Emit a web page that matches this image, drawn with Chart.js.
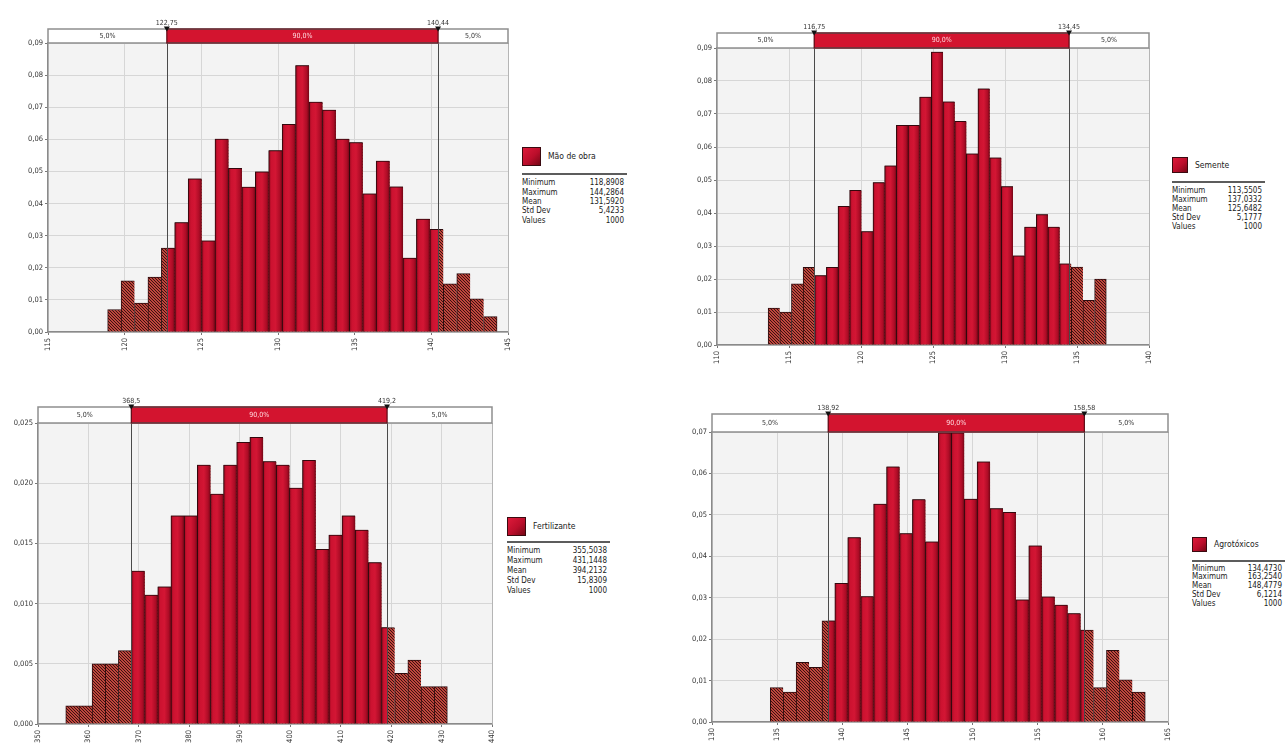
<!DOCTYPE html>
<html>
<head>
<meta charset="utf-8">
<title>Distribuições</title>
<script src="https://cdn.jsdelivr.net/npm/chart.js@4.4.1/dist/chart.umd.min.js"></script>
<style>
  html, body { margin: 0; padding: 0; background: #fff; }
  body { width: 1288px; height: 749px; position: relative; overflow: hidden;
         font-family: "DejaVu Sans Condensed", "Liberation Sans Narrow", "Liberation Sans", sans-serif; }
  canvas { position: absolute; }
  .legend { position: absolute; color: #222; font-size: 8px; }
  .legend .swatch { position: absolute; left: 0; top: 0; box-sizing: border-box;
                    border: 1px solid #3a0a10; background: linear-gradient(135deg, #de1a3a 0%, #bb0e2b 55%, #760716 100%); }
  .legend .name { position: absolute; white-space: nowrap; font-size: 8.5px; color: #222; }
  .legend .rule { position: absolute; left: 0; height: 2px; background: #5c5c5c; }
  .legend .row { position: absolute; left: 0; right: 0; white-space: nowrap; }
  .legend .row .v { position: absolute; right: 3px; top: 0; }
</style>
</head>
<body>
<canvas id="c1" width="515" height="370" style="left:0px;top:0px"></canvas>
<canvas id="c2" width="495" height="380" style="left:660px;top:0px"></canvas>
<canvas id="c3" width="500" height="374" style="left:0px;top:375px"></canvas>
<canvas id="c4" width="515" height="369" style="left:660px;top:380px"></canvas>
<script>
// ---- data ---------------------------------------------------------------
const statNames = ['Minimum', 'Maximum', 'Mean', 'Std Dev', 'Values'];

// Mão de obra
const maoDensity = [0.0070, 0.0159, 0.0090, 0.0171, 0.0261, 0.0341, 0.0477, 0.0284, 0.0601, 0.0510,
                    0.0451, 0.0499, 0.0565, 0.0647, 0.0830, 0.0716, 0.0691, 0.0601, 0.0590, 0.0430,
                    0.0532, 0.0452, 0.0230, 0.0352, 0.0320, 0.0150, 0.0182, 0.0103, 0.0048];
const maoStats = [118.8908, 144.2864, 131.5920, 5.4233, 1000];
const maoPercentiles = [122.75, 140.44];
const maoXAxis = [115, 145, 5];
const maoYAxis = [0.09, 0.01];

// Semente
const sementeDensity = [0.0112, 0.0100, 0.0185, 0.0235, 0.0210, 0.0235, 0.0420, 0.0469, 0.0344, 0.0492,
                        0.0543, 0.0666, 0.0666, 0.0751, 0.0888, 0.0737, 0.0678, 0.0579, 0.0776, 0.0567,
                        0.0480, 0.0270, 0.0357, 0.0395, 0.0357, 0.0246, 0.0236, 0.0135, 0.0200];
const sementeStats = [113.5505, 137.0332, 125.6482, 5.1777, 1000];
const sementePercentiles = [116.75, 134.45];
const sementeXAxis = [110, 140, 5];
const sementeYAxis = [0.09, 0.01];

// Fertilizante
const fertDensity = [0.0015, 0.0015, 0.0050, 0.0050, 0.0061, 0.0127, 0.0107, 0.0114, 0.0173, 0.0173,
                     0.0215, 0.0191, 0.0215, 0.0234, 0.0238, 0.0218, 0.0215, 0.0196, 0.0219, 0.0145,
                     0.0157, 0.0173, 0.0161, 0.0134, 0.0080, 0.0042, 0.0053, 0.0031, 0.0031];
const fertStats = [355.5038, 431.1448, 394.2132, 15.8309, 1000];
const fertPercentiles = [368.5, 419.2];
const fertXAxis = [350, 440, 10];
const fertYAxis = [0.025, 0.005];

// Agrotóxicos
const agroDensity = [0.0083, 0.0072, 0.0144, 0.0132, 0.0244, 0.0335, 0.0445, 0.0303, 0.0526, 0.0616,
                     0.0455, 0.0537, 0.0435, 0.0698, 0.0698, 0.0538, 0.0628, 0.0515, 0.0506, 0.0295,
                     0.0425, 0.0302, 0.0282, 0.0262, 0.0222, 0.0083, 0.0173, 0.0102, 0.0072];
const agroStats = [134.4730, 163.2540, 148.4779, 6.1214, 1000];
const agroPercentiles = [138.92, 158.58];
const agroXAxis = [130, 165, 5];
const agroYAxis = [0.07, 0.01];

// ---- layout -------------------------------------------------------------
const layouts = [
  { padTop: 43, padRight: 7, yAxisW: 48, xAxisH: 38, bandH: 14, yDec: 2,
    legend: { x: 522, y: 147, sq: 19, w: 105, rule: 26, row0: 36, gap: 9.3 } },
  { padTop: 48, padRight: 6, yAxisW: 57, xAxisH: 35, bandH: 15, yDec: 2,
    legend: { x: 1172, y: 157, sq: 16, w: 93, rule: 24, row0: 33, gap: 9 } },
  { padTop: 48, padRight: 8, yAxisW: 38, xAxisH: 25, bandH: 16, yDec: 3,
    legend: { x: 507, y: 517, sq: 19, w: 103, rule: 24, row0: 34, gap: 10 } },
  { padTop: 52, padRight: 7, yAxisW: 52, xAxisH: 27, bandH: 18, yDec: 2,
    legend: { x: 1192, y: 537, sq: 15, w: 93, rule: 23, row0: 32, gap: 8.8 } }
];

const panels = [
  { id: 'c1', name: 'Mão de obra', density: maoDensity, stats: maoStats, pct: maoPercentiles, xAxis: maoXAxis, yAxis: maoYAxis },
  { id: 'c2', name: 'Semente', density: sementeDensity, stats: sementeStats, pct: sementePercentiles, xAxis: sementeXAxis, yAxis: sementeYAxis },
  { id: 'c3', name: 'Fertilizante', density: fertDensity, stats: fertStats, pct: fertPercentiles, xAxis: fertXAxis, yAxis: fertYAxis },
  { id: 'c4', name: 'Agrotóxicos', density: agroDensity, stats: agroStats, pct: agroPercentiles, xAxis: agroXAxis, yAxis: agroYAxis }
];

const FONT = '"DejaVu Sans Condensed", "Liberation Sans Narrow", "Liberation Sans", sans-serif';
Chart.defaults.font.family = FONT;
Chart.defaults.font.size = 7;
Chart.defaults.color = '#333';

const comma = (v) => String(v).replace('.', ',');

// diagonal hatch used for the two 5% tails
function hatchPattern(ctx) {
  const c = document.createElement('canvas');
  c.width = 3; c.height = 3;
  const g = c.getContext('2d');
  g.fillStyle = '#c0453d';
  g.fillRect(0, 0, 3, 3);
  g.fillStyle = '#3a130f';
  for (let i = 0; i < 3; i++) g.fillRect(i, i, 1, 1);
  return ctx.createPattern(c, 'repeat');
}

// background, clipping of the central 90% (dataset 0) and the percentile band
const bandPlugin = {
  id: 'band',
  beforeDraw(chart) {
    const { ctx, chartArea: a } = chart;
    ctx.save();
    ctx.fillStyle = '#f3f3f3';
    ctx.fillRect(a.left, a.top, a.right - a.left, a.bottom - a.top);
    ctx.restore();
  },
  beforeDatasetDraw(chart, args, o) {
    if (args.index !== 0) return;
    const { ctx, chartArea: a, scales: { x } } = chart;
    const l = x.getPixelForValue(o.lo), r = x.getPixelForValue(o.hi);
    ctx.save();
    ctx.beginPath();
    ctx.rect(l, a.top - 2, r - l, a.bottom - a.top + 4);
    ctx.clip();
  },
  afterDatasetDraw(chart, args) {
    if (args.index === 0) chart.ctx.restore();
  },
  afterDraw(chart, args, o) {
    const { ctx, chartArea: a, scales: { x } } = chart;
    const l = x.getPixelForValue(o.lo), r = x.getPixelForValue(o.hi);
    const bt = a.top - o.bandH, mid = a.top - o.bandH / 2;
    ctx.save();
    // right frame of the plot
    ctx.strokeStyle = '#b5b5b5';
    ctx.lineWidth = 1;
    ctx.beginPath();
    ctx.moveTo(Math.round(a.right) + 0.5, a.top);
    ctx.lineTo(Math.round(a.right) + 0.5, a.bottom);
    ctx.stroke();
    // percentile lines
    ctx.strokeStyle = '#4a4a4a';
    [l, r].forEach(px => {
      const X = Math.round(px) + 0.5;
      ctx.beginPath(); ctx.moveTo(X, bt); ctx.lineTo(X, a.bottom); ctx.stroke();
    });
    // band
    ctx.fillStyle = '#ffffff';
    ctx.fillRect(a.left, bt, l - a.left, o.bandH);
    ctx.fillRect(r, bt, a.right - r, o.bandH);
    ctx.fillStyle = '#d3142f';
    ctx.fillRect(l, bt, r - l, o.bandH);
    ctx.strokeStyle = '#8e8e8e';
    ctx.lineWidth = 1.5;
    ctx.strokeRect(a.left, bt, a.right - a.left, o.bandH);
    ctx.strokeStyle = '#5e0a15';
    ctx.lineWidth = 1.2;
    ctx.strokeRect(l, bt, r - l, o.bandH);
    ctx.font = '7px ' + FONT;
    ctx.textAlign = 'center';
    ctx.textBaseline = 'middle';
    ctx.fillStyle = '#333';
    ctx.fillText('5,0%', (a.left + l) / 2, mid);
    ctx.fillText('5,0%', (r + a.right) / 2, mid);
    ctx.fillStyle = '#ffd9de';
    ctx.fillText('90,0%', (l + r) / 2, mid);
    // markers and percentile values
    ctx.fillStyle = '#111';
    [l, r].forEach(px => {
      ctx.beginPath();
      ctx.moveTo(px - 3, bt - 2.5); ctx.lineTo(px + 3, bt - 2.5); ctx.lineTo(px, bt + 2.5);
      ctx.closePath(); ctx.fill();
    });
    ctx.fillStyle = '#333';
    ctx.textBaseline = 'alphabetic';
    ctx.fillText(comma(o.lo), l, bt - 4);
    ctx.fillText(comma(o.hi), r, bt - 4);
    ctx.restore();
  }
};

function buildChart(p, L) {
  const canvas = document.getElementById(p.id);
  const ctx2d = canvas.getContext('2d');
  const lo = p.stats[0], hi = p.stats[1];
  const n = p.density.length;
  const w = (hi - lo) / n;
  const points = p.density.map((v, i) => ({ x: lo + w * (i + 0.5), y: v }));
  const hatch = hatchPattern(ctx2d);
  const lastIdx = n - 1;
  const edges = (c) => ({ top: 1, left: 1, bottom: 0, right: c.dataIndex === lastIdx ? 1 : 0 });

  // each bin gets a left-to-right shading across its own width
  const coreFill = (c) => {
    const chart = c.chart, xs = chart.scales && chart.scales.x;
    if (c.type !== 'data' || !xs) return '#c8102e';
    const l = xs.getPixelForValue(lo + w * c.dataIndex);
    const r = xs.getPixelForValue(lo + w * (c.dataIndex + 1));
    if (!isFinite(l) || !isFinite(r) || r <= l) return '#c8102e';
    const g = chart.ctx.createLinearGradient(l, 0, r, 0);
    g.addColorStop(0, '#9e0a21');
    g.addColorStop(0.2, '#cc1230');
    g.addColorStop(0.5, '#d31634');
    g.addColorStop(0.82, '#ad0c26');
    g.addColorStop(1, '#720716');
    return g;
  };

  return new Chart(canvas, {
    type: 'bar',
    data: {
      datasets: [
        { label: p.name, data: points, backgroundColor: coreFill,
          borderColor: '#33080d', borderWidth: edges, borderSkipped: false,
          grouped: false, barPercentage: 1, categoryPercentage: 1 },
        { label: p.name + ' (5%)', data: points, backgroundColor: hatch,
          borderColor: '#2e0b0d', borderWidth: edges, borderSkipped: false,
          grouped: false, barPercentage: 1, categoryPercentage: 1 }
      ]
    },
    options: {
      responsive: false,
      animation: false,
      events: [],
      layout: { padding: { top: L.padTop, right: L.padRight, left: 0, bottom: 0 } },
      plugins: {
        legend: { display: false },
        tooltip: { enabled: false },
        band: { lo: p.pct[0], hi: p.pct[1], bandH: L.bandH }
      },
      scales: {
        x: {
          type: 'linear',
          offset: false,
          stacked: false,
          min: p.xAxis[0], max: p.xAxis[1],
          afterFit: (s) => { s.height = L.xAxisH; s.paddingLeft = 0; s.paddingRight = 0; },
          ticks: { stepSize: p.xAxis[2], minRotation: 90, maxRotation: 90, autoSkip: false,
                   padding: 3, color: '#333', font: { size: 7.5 } },
          grid: { offset: false, color: '#d6d6d6', tickColor: '#777', tickLength: 3, lineWidth: 1 },
          border: { color: '#8a8a8a', width: 1.5 }
        },
        y: {
          min: 0, max: p.yAxis[0],
          afterFit: (s) => { s.width = L.yAxisW; s.paddingTop = 0; s.paddingBottom = 0; },
          ticks: { stepSize: p.yAxis[1], padding: 2, color: '#333', font: { size: 7.5 },
                   callback: (v) => Number(v).toFixed(L.yDec).replace('.', ',') },
          grid: { color: '#d6d6d6', tickColor: '#777', tickLength: 3, lineWidth: 1 },
          border: { color: '#8a8a8a', width: 1.5 }
        }
      }
    },
    plugins: [bandPlugin]
  });
}

function buildLegend(p, L) {
  const G = L.legend;
  const root = document.createElement('div');
  root.className = 'legend';
  Object.assign(root.style, { left: G.x + 'px', top: G.y + 'px', width: G.w + 'px', height: (G.row0 + G.gap * 5) + 'px' });
  const sw = document.createElement('div');
  sw.className = 'swatch';
  Object.assign(sw.style, { width: G.sq + 'px', height: G.sq + 'px' });
  root.appendChild(sw);
  const nm = document.createElement('div');
  nm.className = 'name';
  nm.textContent = p.name;
  Object.assign(nm.style, { left: (G.sq + 7) + 'px', top: '0px', lineHeight: G.sq + 'px' });
  root.appendChild(nm);
  const rule = document.createElement('div');
  rule.className = 'rule';
  Object.assign(rule.style, { top: G.rule + 'px', width: G.w + 'px' });
  root.appendChild(rule);
  statNames.forEach((s, i) => {
    const row = document.createElement('div');
    row.className = 'row';
    Object.assign(row.style, { top: (G.row0 + i * G.gap - G.gap / 2) + 'px', height: G.gap + 'px', lineHeight: G.gap + 'px' });
    const k = document.createElement('span');
    k.textContent = s;
    const v = document.createElement('span');
    v.className = 'v';
    const val = p.stats[i];
    v.textContent = i === 4 ? String(val) : val.toFixed(4).replace('.', ',');
    row.appendChild(k);
    row.appendChild(v);
    root.appendChild(row);
  });
  document.body.appendChild(root);
}

panels.forEach((p, i) => {
  buildChart(p, layouts[i]);
  buildLegend(p, layouts[i]);
});
</script>
</body>
</html>
